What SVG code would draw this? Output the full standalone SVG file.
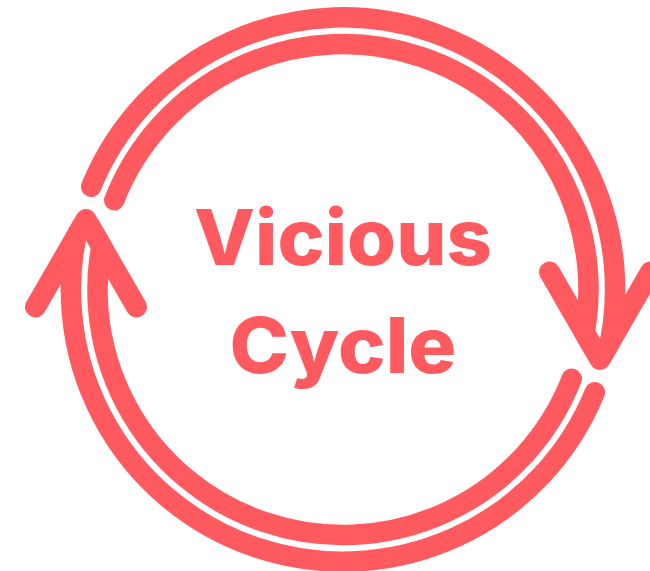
<svg xmlns="http://www.w3.org/2000/svg" width="650" height="571" viewBox="0 0 650 571">
  <style>
    .band { fill: none; stroke: #FF5A5F; stroke-width: 20.5; stroke-linecap: round; }
    .head { fill: none; stroke: #FF5A5F; stroke-width: 21; stroke-linecap: round; stroke-linejoin: round; }
    .label { fill: #FF5A5F; font-family: "Inter", "Noto Sans", "Liberation Sans", sans-serif; font-weight: 800; font-size: 77px; text-anchor: middle; }
  </style>
  <defs>
    <clipPath id="headClip" clipPathUnits="userSpaceOnUse">
      <polygon points="587.9,359.5 612.1,359.5 725,164 725,-50 -50,-50 -50,290 547.7,290"/>
    </clipPath>
  </defs>
  <rect width="650" height="571" fill="#FFFFFF"/>
  <g id="connectors">
    <g id="arc-top">
      <g clip-path="url(#headClip)">
        <path class="band" d="M91.2,186.7 A272,272 0 0 1 604.5,364.5"/>
        <path class="band" d="M114.3,200.3 A245.5,245.5 0 0 1 579,357.2"/>
      </g>
      <polyline class="head" points="549.5,272 600,359.5 650.5,272"/>
    </g>
    <g id="arc-bottom" transform="rotate(180 343 289.5)">
      <g clip-path="url(#headClip)">
        <path class="band" d="M91.2,186.7 A272,272 0 0 1 604.5,364.5"/>
        <path class="band" d="M114.3,200.3 A245.5,245.5 0 0 1 579,357.2"/>
      </g>
      <polyline class="head" points="549.5,272 600,359.5 650.5,272"/>
    </g>
  </g>
  <g id="title">
    <text class="label" x="343" y="265" textLength="298" lengthAdjust="spacingAndGlyphs">Vicious</text>
    <text class="label" x="343" y="372.7" textLength="227" lengthAdjust="spacingAndGlyphs">Cycle</text>
  </g>
</svg>
